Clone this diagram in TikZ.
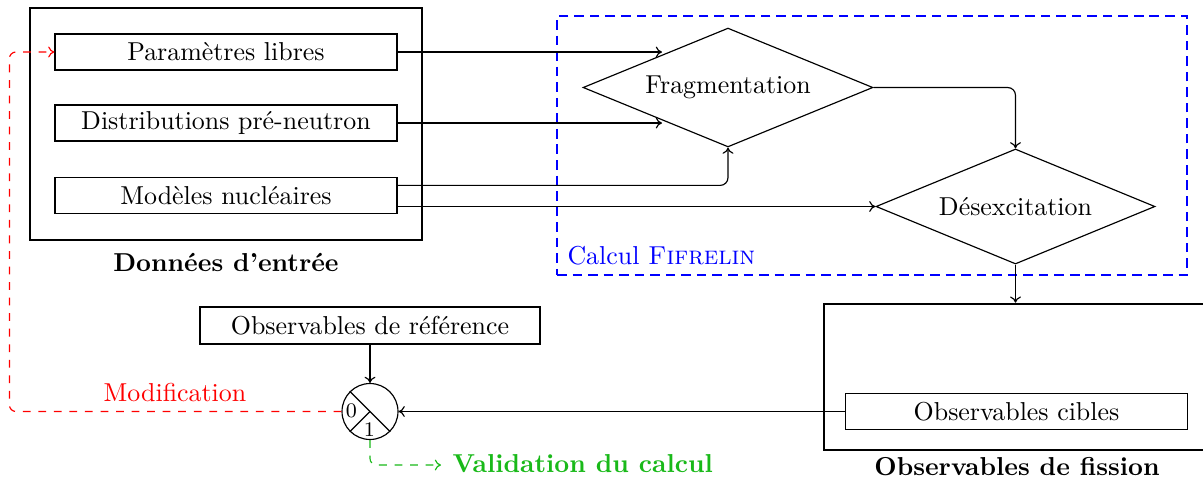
\documentclass[tikz,border=0pt]{standalone}
\usetikzlibrary{shapes.geometric,arrows.meta}
\definecolor{vgreen}{RGB}{25,185,25}
\begin{document}
\begin{tikzpicture}[x=0.386pt,y=-0.386pt,
  >={To[length=2.4pt,width=4.2pt]},
  box/.style={draw, line width=0.45pt, minimum width=132pt, minimum height=13.9pt, inner sep=0pt},
  bigbox/.style={draw, line width=0.95pt, inner sep=0pt},
  losange/.style={draw, diamond, line width=0.45pt, inner sep=0pt, aspect=2.44},
  arr/.style={->, line width=0.45pt},
  lbl/.style={font=\bfseries}
]
\useasboundingbox (0,0) rectangle (1203,482);
% big boxes
\node[bigbox, minimum width=151.3pt, minimum height=89.6pt] (donnees) at (226,124) {};
\node[lbl] (ldonnees) at (226,262) {Donn\'ees d'entr\'ee};
\node[draw=blue, line width=1.1pt, dash pattern=on 3.7pt off 2.3pt, minimum width=243.2pt, minimum height=100pt, inner sep=0pt] (fifrelin) at (872,145.5) {};
\node[blue, anchor=west, inner sep=0pt] (lfifrelin) at (567,256) {Calcul \textsc{Fifrelin}};
\node[bigbox, minimum width=148.2pt, minimum height=56.4pt] (fission) at (1016,377) {};
\node[lbl] (lfission) at (1017,467) {Observables de fission};
% input boxes
\node[box] (param) at (226,52) {Param\`etres libres};
\node[box] (distrib) at (226,123) {Distributions pr\'e-neutron};
\node[box] (modeles) at (226,195.5) {Mod\`eles nucl\'eaires};
% diamonds
\node[losange, minimum width=111.9pt, minimum height=45.9pt] (frag) at (728,87.5) {Fragmentation};
\node[losange, minimum width=107.7pt, minimum height=44.4pt] (desex) at (1015.5,206.5) {D\'esexcitation};
% target boxes
\node[box] (cibles) at (1016.5,411.5) {Observables cibles};
\node[box, minimum width=131.2pt, minimum height=14.3pt] (ref) at (370,325.5) {Observables de r\'ef\'erence};
% comparator
\node[draw, circle, minimum size=21.6pt, inner sep=0pt, line width=0.45pt] (comp) at (370,411.5) {};
\draw[line width=0.45pt] (comp.135) -- (comp.-45);
\draw[line width=0.45pt] (comp.center) -- (comp.225);
\node[font=\footnotesize, inner sep=0pt] (zero) at (351.5,411) {0};
\node[font=\footnotesize, inner sep=0pt] (one) at (369.5,430) {1};
% arrow end coordinates
\coordinate (fa) at (662,52);
\coordinate (fb) at (662,123);
% connectors
\draw[arr] (param.east) -- (fa);
\draw[arr] (distrib.east) -- (fb);
\draw[arr, rounded corners=3pt] ([yshift=3.9pt]modeles.east) -| (frag.south);
\draw[arr] (modeles.east |- desex.west) -- (desex.west);
\draw[arr, rounded corners=3pt] (frag.east) -| (desex.north);
\draw[arr] (desex.south) -- (desex.south |- fission.north);
\draw[arr] (ref.south) -- (comp.north);
\draw[arr] (cibles.west) -- (comp.east);
% feedback
\draw[->, red, dashed, line width=0.45pt, rounded corners=2.5pt] (comp.west) -- ++(-332,0) |- (param.west);
\node[red] (modif) at (175,393) {Modification};
\node[vgreen, font=\bfseries, anchor=west, inner sep=0pt] (valid) at (452,464) {Validation du calcul};
\coordinate (vend) at (441,465);
\draw[->, vgreen, dashed, line width=0.45pt, rounded corners=2.5pt] (comp.south) |- (vend);
\end{tikzpicture}
\end{document}
